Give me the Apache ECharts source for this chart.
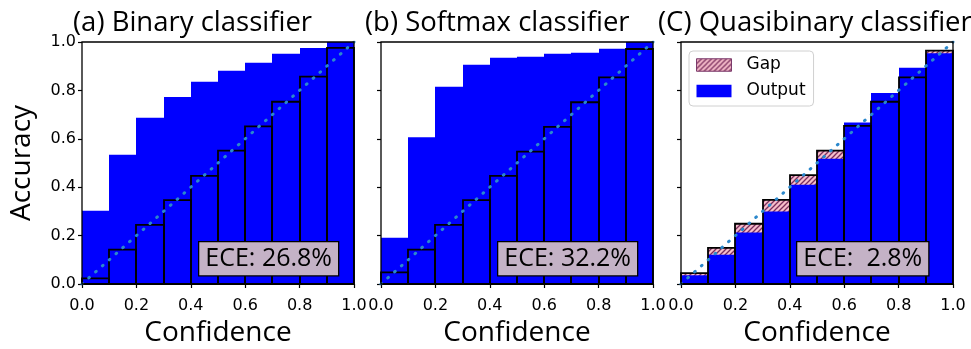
<!DOCTYPE html>
<html>
<head>
<meta charset="utf-8">
<script src="https://cdn.jsdelivr.net/npm/echarts@6/dist/echarts.min.js"></script>
<style>
  html, body { margin: 0; padding: 0; background: #fff; }
  #chart { width: 971px; height: 349px; }
</style>
</head>
<body>
<div id="chart"></div>
<script>
// Confidence bins (ten equal-width bins on [0, 1])
const binLabels = ['0.0-0.1', '0.1-0.2', '0.2-0.3', '0.3-0.4', '0.4-0.5',
                   '0.5-0.6', '0.6-0.7', '0.7-0.8', '0.8-0.9', '0.9-1.0'];
const tickValues = [0, 0.2, 0.4, 0.6, 0.8, 1.0];

// (a) Binary classifier: per-bin accuracy and mean confidence
const accBinary  = [0.303, 0.534, 0.687, 0.773, 0.836, 0.881, 0.914, 0.951, 0.975, 1.000];
const confBinary = [0.023, 0.142, 0.244, 0.347, 0.447, 0.551, 0.651, 0.753, 0.857, 0.976];

// (b) Softmax classifier
const accSoftmax  = [0.191, 0.606, 0.815, 0.906, 0.935, 0.939, 0.951, 0.956, 0.972, 1.000];
const confSoftmax = [0.048, 0.142, 0.244, 0.347, 0.447, 0.547, 0.649, 0.751, 0.854, 0.971];

// (c) Quasibinary classifier
const accQuasi  = [0.036, 0.121, 0.213, 0.300, 0.410, 0.518, 0.667, 0.789, 0.894, 0.953];
const confQuasi = [0.045, 0.149, 0.249, 0.348, 0.450, 0.551, 0.653, 0.753, 0.854, 0.964];

const panelTitles = ['(a) Binary classifier', '(b) Softmax classifier', '(C) Quasibinary classifier'];
const eceLabels = ['ECE: 26.8%', 'ECE: 32.2%', 'ECE:  2.8%'];
const diagonal = [[0, 0], [1, 1]];

const panels = [
  { acc: accBinary, conf: confBinary },
  { acc: accSoftmax, conf: confSoftmax },
  { acc: accQuasi, conf: confQuasi }
];

// Layout
const gridLefts = [82, 381, 681];
const gridTop = 42, gridW = 272, gridH = 242;
const titleLefts = [73, 365, 658];
const eceLefts = [198, 497, 796];

// Hatched fill for the gap bars
function makeHatch() {
  const s = 5;
  const c = document.createElement('canvas');
  c.width = s; c.height = s;
  const g = c.getContext('2d');
  g.fillStyle = '#f6bdca';
  g.fillRect(0, 0, s, s);
  g.strokeStyle = '#7a2d5c';
  g.lineWidth = 1.3;
  g.beginPath();
  g.moveTo(-1, s + 1); g.lineTo(s + 1, -1);
  g.moveTo(-1, 1); g.lineTo(1, -1);
  g.moveTo(s - 1, s + 1); g.lineTo(s + 1, s - 1);
  g.stroke();
  return { image: c, repeat: 'repeat' };
}
const hatch = makeHatch();

const FONT_TXT = '"Open Sans", "DejaVu Sans", sans-serif';
const FONT_TICK = '"DejaVu Sans", sans-serif';

// Full-width bin bar, edges snapped to whole pixels so neighbours abut cleanly
function binBar(fill, stroke, lineWidth) {
  return function (params, api) {
    const top = api.coord([api.value(0), api.value(1)]);
    const base = api.coord([api.value(0), 0]);
    const w = api.size([1, 0])[0];
    const x0 = Math.round(top[0] - w / 2);
    const x1 = Math.round(top[0] + w / 2);
    return {
      type: 'rect',
      shape: { x: x0, y: top[1], width: x1 - x0, height: base[1] - top[1] },
      style: { fill: fill, stroke: stroke, lineWidth: lineWidth }
    };
  };
}

const grids = [], xAxes = [], yAxes = [], series = [], titles = [], graphics = [];

panels.forEach((p, i) => {
  grids.push({
    left: gridLefts[i], top: gridTop, width: gridW, height: gridH,
    containLabel: false, outerBoundsMode: 'none',
    show: true, z: 10, backgroundColor: 'transparent',
    borderColor: '#000', borderWidth: 1.3
  });
  // value axis for ticks / diagonal
  xAxes.push({
    gridIndex: i, type: 'value', min: 0, max: 1, interval: 0.2,
    axisLine: { show: false },
    axisTick: { show: true, length: 4, lineStyle: { color: '#000', width: 1.2 } },
    axisLabel: { color: '#000', fontFamily: FONT_TICK, fontSize: 16, margin: 14,
                 formatter: v => v.toFixed(1) },
    splitLine: { show: false },
    name: 'Confidence', nameLocation: 'middle', nameGap: 29,
    nameTextStyle: { color: '#000', fontFamily: FONT_TXT, fontSize: 28 }
  });
  // category axis carrying the bins
  xAxes.push({
    gridIndex: i, type: 'category', data: binLabels, show: false, boundaryGap: true
  });
  yAxes.push({
    gridIndex: i, type: 'value', min: 0, max: 1, interval: 0.2,
    axisLine: { show: false },
    axisTick: { show: true, length: 4, lineStyle: { color: '#000', width: 1.2 } },
    axisLabel: { show: i === 0, color: '#000', fontFamily: FONT_TICK, fontSize: 16, margin: 6,
                 formatter: v => v.toFixed(1) },
    splitLine: { show: false },
    name: i === 0 ? 'Accuracy' : '', nameLocation: 'middle', nameGap: 46,
    nameTextStyle: { color: '#000', fontFamily: FONT_TXT, fontSize: 28 }
  });

  const xCat = 2 * i + 1;
  const confPts = p.conf.map((v, k) => [k, v]);
  const accPts = p.acc.map((v, k) => [k, v]);

  series.push({
    name: 'Gap', type: 'custom', xAxisIndex: xCat, yAxisIndex: i,
    data: confPts, encode: { x: 0, y: 1 }, z: 2, silent: true,
    itemStyle: { color: hatch },
    renderItem: binBar(hatch, null, 0)
  });
  series.push({
    name: 'Output', type: 'custom', xAxisIndex: xCat, yAxisIndex: i,
    data: accPts, encode: { x: 0, y: 1 }, z: 3, silent: true,
    itemStyle: { color: '#0000ff' },
    renderItem: binBar('#0000ff', null, 0)
  });
  series.push({
    name: 'bin edge', type: 'custom', xAxisIndex: xCat, yAxisIndex: i,
    data: confPts, encode: { x: 0, y: 1 }, z: 4, silent: true,
    itemStyle: { color: '#000' },
    renderItem: binBar('rgba(0,0,0,0)', '#000', 1.8)
  });
  series.push({
    name: 'Perfect calibration', type: 'line', xAxisIndex: 2 * i, yAxisIndex: i,
    data: diagonal, symbol: 'none', z: 6, silent: true,
    lineStyle: { color: '#2b88cc', width: 3, type: [0.8, 8.3], cap: 'round' }
  });

  titles.push({
    text: panelTitles[i], left: titleLefts[i], top: 9, padding: 0,
    textStyle: { color: '#000', fontFamily: FONT_TXT, fontSize: 27.5, fontWeight: 'normal' }
  });

  graphics.push({
    type: 'text', left: eceLefts[i], top: 241, z: 100,
    style: {
      text: eceLabels[i], fill: '#000',
      font: '25px "Open Sans", "DejaVu Sans", sans-serif',
      backgroundColor: '#c4b2c6', borderColor: '#000', borderWidth: 1.3,
      padding: [1, 6, 1, 6], lineHeight: 31
    }
  });
});

const chart = echarts.init(document.getElementById('chart'), null, { renderer: 'canvas' });
chart.setOption({
  animation: false,
  backgroundColor: '#fff',
  title: titles,
  grid: grids,
  xAxis: xAxes,
  yAxis: yAxes,
  legend: {
    orient: 'vertical', left: 689, top: 51, z: 20,
    data: [
      { name: 'Gap', icon: 'rect', itemStyle: { color: hatch, borderColor: '#7b3a6b', borderWidth: 1 } },
      { name: 'Output', icon: 'rect', itemStyle: { color: '#0000ff' } }
    ],
    itemWidth: 35, itemHeight: 12.5, itemGap: 6,
    padding: [4, 8, 5, 7],
    backgroundColor: '#fff', borderColor: '#d0d0d0', borderWidth: 1, borderRadius: 4,
    selectedMode: false,
    textStyle: { color: '#000', fontFamily: FONT_TICK, fontSize: 17, lineHeight: 20,
                 padding: [0, 0, 0, 10] }
  },
  graphic: graphics,
  series: series
});
</script>
</body>
</html>
